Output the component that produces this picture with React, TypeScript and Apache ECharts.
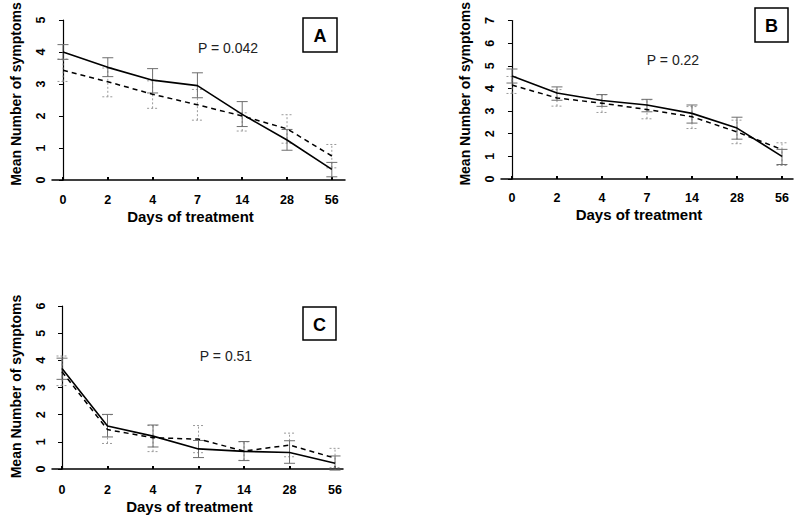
import React, { useEffect, useRef } from "react";
import * as echarts from "echarts";

const days = ["0", "2", "4", "7", "14", "28", "56"];

// Panel A
const solidA = [4.0, 3.52, 3.12, 2.95, 2.05, 1.25, 0.33];
const solidALo = [3.77, 3.23, 2.72, 2.57, 1.67, 0.93, 0.1];
const solidAHi = [4.23, 3.82, 3.48, 3.35, 2.45, 1.58, 0.55];
const dashA = [3.43, 3.07, 2.68, 2.35, 2.0, 1.6, 0.75];
const dashALo = [3.08, 2.6, 2.24, 1.87, 1.53, 1.15, 0.38];
const dashAHi = [3.78, 3.5, 3.1, 2.83, 2.1, 2.04, 1.11];

// Panel B
const solidB = [4.55, 3.8, 3.47, 3.27, 2.9, 2.25, 1.0];
const solidBLo = [4.24, 3.48, 3.21, 2.97, 2.47, 1.76, 0.64];
const solidBHi = [4.86, 4.07, 3.73, 3.52, 3.27, 2.73, 1.31];
const dashB = [4.15, 3.58, 3.35, 3.07, 2.75, 2.08, 1.3];
const dashBLo = [3.78, 3.22, 2.94, 2.66, 2.23, 1.56, 0.6];
const dashBHi = [4.53, 3.95, 3.72, 3.5, 3.2, 2.6, 1.6];

// Panel C
const solidC = [3.7, 1.58, 1.21, 0.74, 0.65, 0.61, 0.21];
const solidCLo = [3.3, 1.18, 0.81, 0.42, 0.31, 0.21, -0.04];
const solidCHi = [4.08, 2.01, 1.62, 1.05, 1.01, 1.04, 0.48];
const dashC = [3.58, 1.45, 1.15, 1.1, 0.66, 0.88, 0.4];
const dashCLo = [3.07, 0.94, 0.64, 0.6, 0.32, 0.45, 0.05];
const dashCHi = [4.16, 2.0, 1.6, 1.6, 1.0, 1.32, 0.76];

const pValues = ["P = 0.042", "P = 0.22", "P = 0.51"];
const panelLetters = ["A", "B", "C"];

const FONT = "'Liberation Sans', Arial, Helvetica, sans-serif";
const idx = [0, 1, 2, 3, 4, 5, 6];

function errRender(color: string, dash: number[] | null) {
  return (params: any, api: any) => {
    const x = api.value(0);
    const lo = api.coord([x, api.value(1)]);
    const hi = api.coord([x, api.value(2)]);
    const w = 5.5;
    const style: any = { stroke: color, lineWidth: 1, fill: null };
    if (dash) style.lineDash = dash;
    return {
      type: "group",
      children: [
        { type: "line", shape: { x1: lo[0], y1: lo[1], x2: hi[0], y2: hi[1] }, style },
        { type: "line", shape: { x1: lo[0] - w, y1: lo[1], x2: lo[0] + w, y2: lo[1] }, style },
        { type: "line", shape: { x1: hi[0] - w, y1: hi[1], x2: hi[0] + w, y2: hi[1] }, style },
      ],
    };
  };
}

export default function App() {
  const ref = useRef<HTMLDivElement>(null);
  useEffect(() => {
    if (!ref.current) return;
    const chart = echarts.init(ref.current, null, { renderer: "svg" });

    const grids = [
      { left: 52, top: 20, width: 293, height: 160 },
      { left: 501, top: 18, width: 292, height: 161 },
      { left: 52, top: 306, width: 291, height: 163 },
    ];
    const xRanges = [
      [-0.2455, 6.294],
      [-0.244, 6.245],
      [-0.22, 6.175],
    ];
    const xOffsets = [6, 5, 7];
    const yMax = [5, 7, 6];
    const yNamePad = [12, 12, 2];

    const panels = [
      { s: solidA, sLo: solidALo, sHi: solidAHi, d: dashA, dLo: dashALo, dHi: dashAHi },
      { s: solidB, sLo: solidBLo, sHi: solidBHi, d: dashB, dLo: dashBLo, dHi: dashBHi },
      { s: solidC, sLo: solidCLo, sHi: solidCHi, d: dashC, dLo: dashCLo, dHi: dashCHi },
    ];

    const xAxis = grids.map((_, i) => ({
      type: "value",
      gridIndex: i,
      min: xRanges[i][0],
      max: xRanges[i][1],
      offset: xOffsets[i],
      name: "Days of treatment",
      nameLocation: "middle",
      nameGap: 23,
      nameTextStyle: { fontFamily: FONT, fontWeight: "bold", fontSize: 15, color: "#000", padding: [0, 16, 0, 0] },
      axisLine: { show: true, lineStyle: { color: "#000", width: 1.5 } },
      axisTick: { show: true, inside: true, length: 3, customValues: idx, lineStyle: { color: "#000", width: 2 } },
      axisLabel: {
        customValues: idx,
        formatter: (v: number) => days[Math.round(v)] ?? "",
        fontFamily: FONT,
        fontWeight: "bold",
        fontSize: 12.5,
        color: "#000",
        margin: 7,
      },
      splitLine: { show: false },
    }));

    const yAxis = grids.map((_, i) => ({
      type: "value",
      gridIndex: i,
      min: 0,
      max: yMax[i],
      interval: 1,
      name: "Mean Number of symptoms",
      nameLocation: "middle",
      nameGap: 29,
      nameTextStyle: { fontFamily: FONT, fontWeight: "bold", fontSize: 14, color: "#000", padding: [0, 0, 0, yNamePad[i]] },
      axisLine: { show: true, lineStyle: { color: "#000", width: 1.2 } },
      axisTick: { show: true, length: 4, lineStyle: { color: "#000" } },
      axisLabel: { rotate: 90, fontFamily: FONT, fontWeight: "bold", fontSize: 12.5, color: "#000", margin: 5 },
      splitLine: { show: false },
    }));

    const series: any[] = [];
    panels.forEach((p, i) => {
      series.push({
        type: "custom",
        xAxisIndex: i,
        yAxisIndex: i,
        renderItem: errRender("#9a9a9a", [2, 2]),
        data: idx.map((k) => [k, p.dLo[k], p.dHi[k]]),
        encode: { x: 0, y: [1, 2] },
        clip: false,
        z: 1,
      });
      series.push({
        type: "custom",
        xAxisIndex: i,
        yAxisIndex: i,
        renderItem: errRender("#6e6e6e", null),
        data: idx.map((k) => [k, p.sLo[k], p.sHi[k]]),
        encode: { x: 0, y: [1, 2] },
        clip: false,
        z: 2,
      });
      series.push({
        type: "line",
        xAxisIndex: i,
        yAxisIndex: i,
        data: idx.map((k) => [k, p.d[k]]),
        symbol: "none",
        lineStyle: { color: "#000", width: 1.5, type: [5, 4] },
        z: 3,
      });
      series.push({
        type: "line",
        xAxisIndex: i,
        yAxisIndex: i,
        data: idx.map((k) => [k, p.s[k]]),
        symbol: "none",
        lineStyle: { color: "#000", width: 1.6 },
        z: 4,
      });
    });

    const boxes = [
      { x: 303, y: 18, w: 34, h: 34 },
      { x: 755, y: 8, w: 33, h: 34 },
      { x: 303, y: 307, w: 33, h: 33 },
    ];
    const pPos = [
      [228, 48],
      [673, 60],
      [226, 356],
    ];
    const graphic: any[] = [];
    boxes.forEach((b, i) => {
      graphic.push({
        type: "rect",
        shape: { x: b.x, y: b.y, width: b.w, height: b.h },
        style: { fill: "#fff", stroke: "#000", lineWidth: 1.5 },
      });
      graphic.push({
        type: "text",
        x: b.x + b.w / 2,
        y: b.y + b.h / 2 + 1,
        style: {
          text: panelLetters[i],
          fontFamily: FONT,
          fontWeight: "bold",
          fontSize: 18,
          fill: "#000",
          align: "center",
          verticalAlign: "middle",
        },
      });
      graphic.push({
        type: "text",
        x: pPos[i][0],
        y: pPos[i][1],
        style: {
          text: pValues[i],
          fontFamily: FONT,
          fontSize: 14,
          fill: "#222",
          align: "center",
          verticalAlign: "middle",
        },
      });
    });

    chart.setOption({
      animation: false,
      backgroundColor: "#fff",
      grid: grids,
      xAxis,
      yAxis,
      series,
      graphic,
    });
    return () => chart.dispose();
  }, []);
  return (
    <div
      ref={ref}
      style={{ position: "absolute", left: 0, top: 0, width: 800, height: 519 }}
    />
  );
}
